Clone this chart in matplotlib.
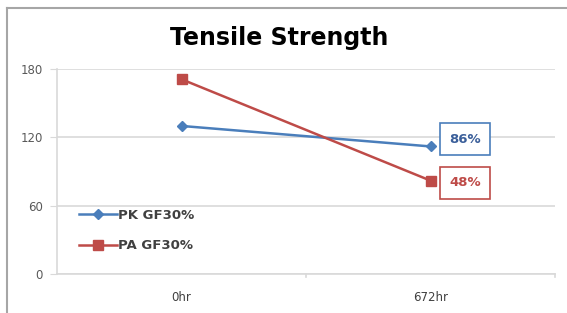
import numpy as np
import matplotlib
matplotlib.use('Agg')
import matplotlib.pyplot as plt
from matplotlib.lines import Line2D

# data
categories = ['0hr', '672hr']
pk_gf30 = [130, 112]
pa_gf30 = [171, 82]
retention_labels = ['86%', '48%']
y_ticks = [0, 60, 120, 180]

blue = '#4a7ebb'
red = '#be4b48'
grid_c = '#d9d9d9'
text_c = '#595959'

plt.rcParams['font.family'] = ['DejaVu Sans']

fig = plt.figure(figsize=(5.67, 3.13), dpi=100)
ax = fig.add_axes([57/567, 1-274/313, (555-57)/567, (274-69)/313])

x = np.arange(len(categories))
ax.plot(x, pk_gf30, color=blue, lw=1.8, marker='D', ms=5.5, label='PK GF30%')
ax.plot(x, pa_gf30, color=red, lw=1.8, marker='s', ms=7, label='PA GF30%')

ax.set_xlim(-0.5, 1.5)
ax.set_ylim(0, 180)
ax.set_yticks(y_ticks)
ax.set_xticks(x)
ax.set_xticklabels(categories)
ax.yaxis.grid(True, color=grid_c, lw=1.2)
ax.set_axisbelow(True)
for s in ['top', 'right']:
    ax.spines[s].set_visible(False)
for s in ['left', 'bottom']:
    ax.spines[s].set_color(grid_c)
    ax.spines[s].set_linewidth(1.2)
ax.tick_params(axis='y', length=5, color=grid_c, labelsize=8.5, labelcolor=text_c, pad=5)
ax.tick_params(axis='x', length=0, labelsize=8.5, labelcolor='#404040', pad=12)
# category boundary ticks on the x axis
for b in [0.5, 1.5]:
    ax.plot([b, b], [0, -3], color=grid_c, lw=1.2, clip_on=False)

# retention boxes next to the last points
box_y = [118.5, 80]
text_cols = ['#3b5f9a', red]
for lab, col, tc, yy in zip(retention_labels, [blue, red], text_cols, box_y):
    ax.text(1.139, yy, lab, color=tc, fontsize=9.5, fontweight='bold',
            ha='center', va='center',
            bbox=dict(boxstyle='square,pad=0.7', fc='white', ec=col, lw=1.2))

leg = ax.legend(loc='lower left', bbox_to_anchor=(0.033, 0.08), frameon=False,
                prop={'size': 9.5, 'weight': 'bold'}, handlelength=2.9,
                handletextpad=0.05, labelspacing=1.35, borderaxespad=0)
for t in leg.get_texts():
    t.set_color('#404040')

fig.text(279/567, 1-38/313, 'Tensile Strength', ha='center', va='center',
         fontsize=17, fontweight='bold', color='black')

# outer chart frame (left and top edges only, the rest is cut off)
fig.add_artist(Line2D([6.5/567, 6.5/567], [0, 1-8/313], transform=fig.transFigure,
                      color='#a6a6a6', lw=1.5))
fig.add_artist(Line2D([6.5/567, 1.01], [1-8/313, 1-8/313], transform=fig.transFigure,
                      color='#a6a6a6', lw=1.5))

fig.savefig('out.png', dpi=100)
